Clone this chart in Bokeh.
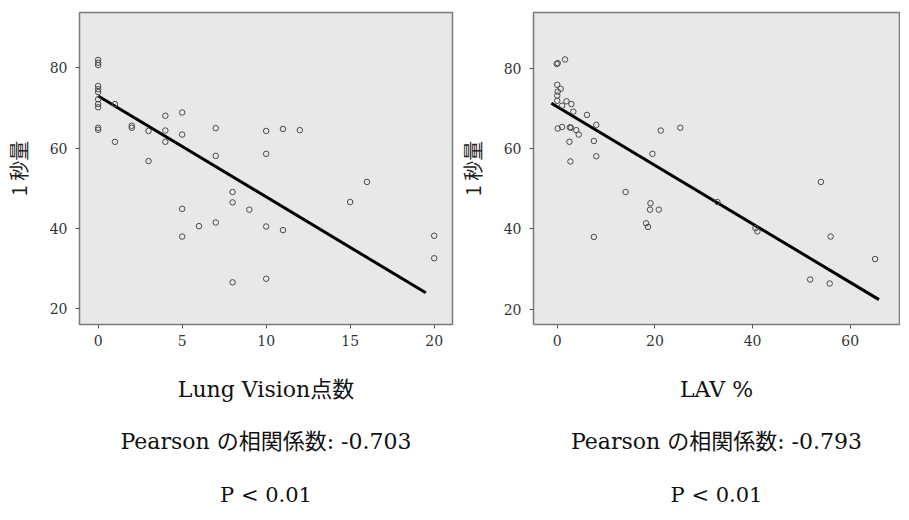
from bokeh.plotting import figure
from bokeh.layouts import row
from bokeh.models import Range1d, FixedTicker, Title
from bokeh.embed import file_html
from bokeh.resources import INLINE

# ---- Left panel: Lung Vision score vs 1秒量 ----
lv_score = [0]*11 + [1, 1, 2, 2, 3, 3, 4, 4, 4, 5, 5, 5, 5, 6, 7, 7, 7, 8, 8, 8, 9,
                     10, 10, 10, 10, 11, 11, 12, 15, 16, 20, 20]
lv_fev1 = [82.0, 81.3, 80.7, 75.5, 74.7, 74.0, 72.2, 71.0, 70.2, 65.1, 64.6,
           71.0, 61.6, 65.6, 65.1, 64.3, 56.8, 68.1, 64.4, 61.6,
           68.9, 63.4, 44.9, 38.0, 40.6, 65.0, 58.1, 41.5, 49.1, 46.5, 26.6, 44.7,
           64.3, 58.6, 40.5, 27.5, 64.8, 39.6, 64.5, 46.6, 51.6, 38.2, 32.6]
lv_fit_x = [0, 19.5]
lv_fit_y = [73.0, 24.0]
lv_xticks = [0, 5, 10, 15, 20]

# ---- Right panel: LAV % vs 1秒量 ----
lav_pct = [-0.1, 0.1, 1.6, 0.0, 0.7, 0.1, 0.0, 0.0, 1.9, 2.9, 1.0, 3.3, 6.1, 8.0,
           0.1, 1.0, 2.6, 2.8, 3.9, 4.4, 2.5, 7.5, 8.0, 2.7, 21.2, 25.2, 19.5,
           14.0, 19.1, 19.0, 20.8, 18.2, 18.6, 32.8, 40.6, 41.0, 54.0, 56.0,
           65.1, 51.8, 55.8, 7.5]
lav_fev1 = [81.1, 81.3, 82.2, 75.9, 74.9, 74.2, 73.2, 71.9, 71.8, 71.1, 70.7, 69.2,
            68.4, 65.9, 65.0, 65.4, 65.3, 65.2, 64.6, 63.5, 61.7, 61.9, 58.1, 56.8,
            64.5, 65.2, 58.7, 49.2, 46.4, 44.8, 44.8, 41.4, 40.5, 46.7, 40.2, 39.4,
            51.7, 38.1, 32.5, 27.4, 26.4, 38.0]
lav_fit_x = [-1.2, 65.9]
lav_fit_y = [71.3, 22.4]
lav_xticks = [0, 20, 40, 60]

yticks = [20, 40, 60, 80]

SERIF = "'DejaVu Serif', 'Noto Sans CJK JP'"
SANS_JP = "'Noto Sans CJK JP'"
H = 512


def panel(x, y, fx, fy, xr, yr, xticks, xlabel, r_text, width, bl, br):
    p = figure(width=width, height=H, output_backend="svg", toolbar_location=None,
               x_range=Range1d(*xr), y_range=Range1d(*yr),
               min_border_left=bl, min_border_right=br,
               min_border_top=12, min_border_bottom=188)
    p.background_fill_color = "#e8e8e8"
    p.border_fill_color = "white"
    p.outline_line_color = "#7a7a7a"
    p.outline_line_width = 1.5
    p.grid.visible = False
    for ax in (p.xaxis[0], p.yaxis[0]):
        ax.axis_line_color = None
        ax.major_tick_line_color = "#555555"
        ax.major_tick_out = 4
        ax.major_tick_in = 0
        ax.minor_tick_line_color = None
        ax.major_label_text_font = SERIF
        ax.major_label_text_font_size = "14px"
        ax.major_label_text_color = "#333333"
    p.xaxis.ticker = FixedTicker(ticks=xticks)
    p.yaxis.ticker = FixedTicker(ticks=yticks)
    p.xaxis.major_label_standoff = 6
    p.yaxis.major_label_standoff = 8
    p.yaxis.axis_label = "1 秒量"
    p.yaxis.axis_label_text_font = SANS_JP
    p.yaxis.axis_label_text_font_size = "20px"
    p.yaxis.axis_label_text_font_style = "normal"
    p.yaxis.axis_label_text_color = "#222222"
    p.yaxis.axis_label_standoff = 14
    p.xaxis.axis_label = xlabel
    p.xaxis.axis_label_text_font = SERIF
    p.xaxis.axis_label_text_font_size = "22px"
    p.xaxis.axis_label_text_font_style = "normal"
    p.xaxis.axis_label_text_color = "#111111"
    p.xaxis.axis_label_standoff = 28

    t1 = Title(text=r_text, align="center", text_font=SERIF, text_font_size="22px",
               text_font_style="normal", text_color="#111111", standoff=44)
    t2 = Title(text="P < 0.01", align="center", text_font=SERIF, text_font_size="21px",
               text_font_style="normal", text_color="#111111", standoff=10)
    p.add_layout(t1, "below")
    p.add_layout(t2, "below")

    p.line(fx, fy, line_color="black", line_width=3)
    p.scatter(x, y, marker="circle", size=5.5, fill_color=None,
              line_color="#4a4a4a", line_width=1)
    return p


left = panel(lv_score, lv_fev1, lv_fit_x, lv_fit_y, (-1.11, 21.09), (16.1, 93.8),
             lv_xticks, "Lung Vision点数", "Pearson の相関係数: -0.703", 454, 79, 2)
right = panel(lav_pct, lav_fev1, lav_fit_x, lav_fit_y, (-4.86, 70.1), (16.2, 93.9),
              lav_xticks, "LAV %", "Pearson の相関係数: -0.793", 446, 79, 1)

layout = row(left, right)
open("out.html", "w").write(file_html(layout, INLINE))
